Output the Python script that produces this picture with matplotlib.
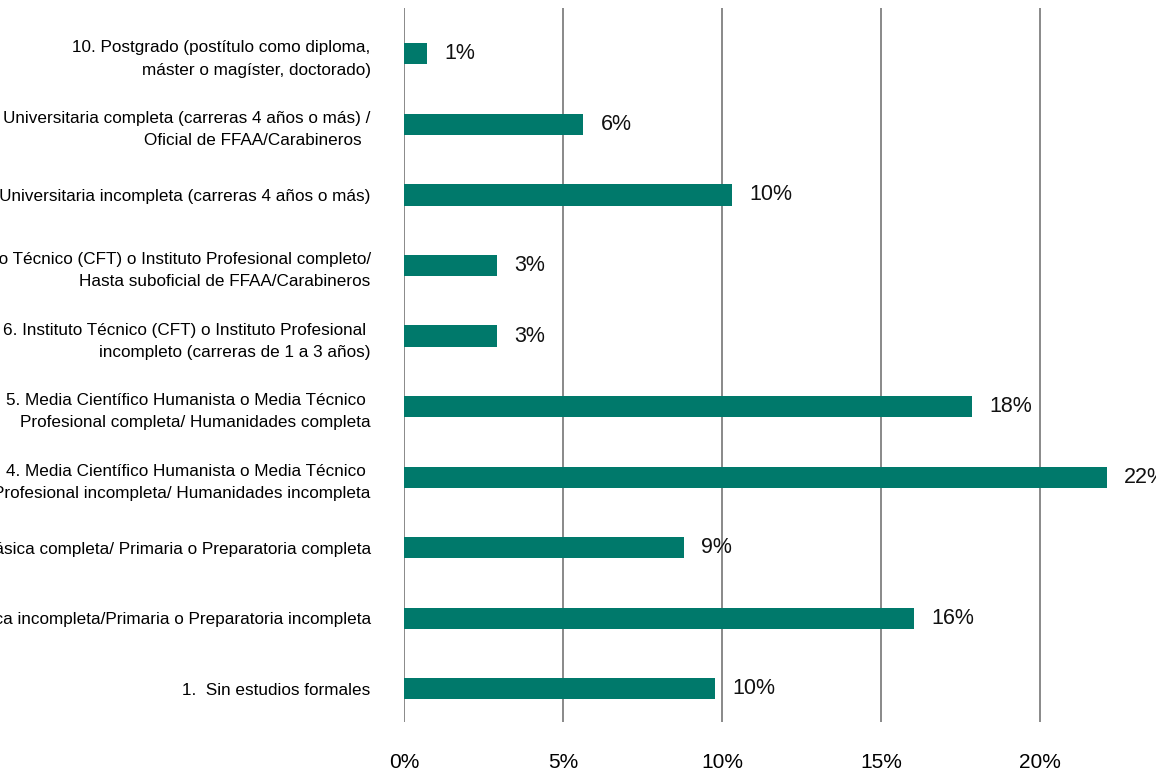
import matplotlib
matplotlib.use("Agg")
import matplotlib.pyplot as plt

plt.rcParams['font.family'] = ['Liberation Sans', 'DejaVu Sans']

# categories, bottom to top
labels = [
    "1.  Sin estudios formales",
    "2. Básica incompleta/Primaria o Preparatoria incompleta",
    "3. Básica completa/ Primaria o Preparatoria completa",
    "4. Media Científico Humanista o Media Técnico \nProfesional incompleta/ Humanidades incompleta",
    "5. Media Científico Humanista o Media Técnico \nProfesional completa/ Humanidades completa",
    "6. Instituto Técnico (CFT) o Instituto Profesional \nincompleto (carreras de 1 a 3 años)",
    "7. Instituto Técnico (CFT) o Instituto Profesional completo/\nHasta suboficial de FFAA/Carabineros",
    "8. Universitaria incompleta (carreras 4 años o más)",
    "9. Universitaria completa (carreras 4 años o más) /\nOficial de FFAA/Carabineros  ",
    "10. Postgrado (postítulo como diploma,\nmáster o magíster, doctorado)",
]
values = [9.78, 16.04, 8.8, 22.1, 17.86, 2.92, 2.92, 10.3, 5.63, 0.72]
xticks = [0, 5, 10, 15, 20]

fig = plt.figure(figsize=(11.56, 7.72), dpi=100)
ax = fig.add_axes([0.3495, 0.0648, 0.6505, 0.9248])

pos = list(range(len(labels)))
ax.barh(pos, values, height=0.3, color='#00796b', zorder=3)

for y, v in zip(pos, values):
    ax.text(v + 0.55, y, f"{round(v)}%", va='center', ha='left', fontsize=15.5, color='#111111')

ax.set_xlim(0, 23.65)
ax.set_ylim(-0.47, 9.65)
ax.set_xticks(xticks)
ax.set_xticklabels([f"{t}%" for t in xticks], fontsize=15)
ax.set_yticks(pos)
ax.set_yticklabels(labels, fontsize=12.3, multialignment='right', linespacing=1.6)
ax.tick_params(axis='both', length=0)
ax.tick_params(axis='y', pad=24)
ax.tick_params(axis='x', pad=22)

ax.grid(axis='x', color='#808080', linewidth=1.3, zorder=0)
for s in ax.spines.values():
    s.set_visible(False)

fig.savefig("out.png", dpi=100)
